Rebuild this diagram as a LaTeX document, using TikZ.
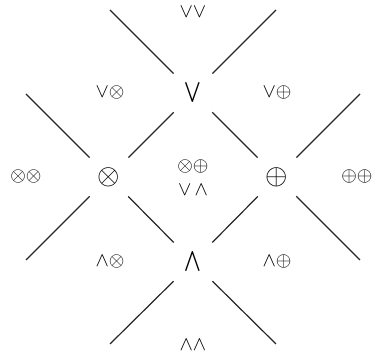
\documentclass[tikz,border=0pt]{standalone}
\usepackage{amsmath, amssymb}
\usepackage{tikz}
\usetikzlibrary{positioning}

\begin{document}
\begin{tikzpicture}[
    x=0.5pt, y=-0.5pt,
    op/.style={circle, minimum size=27pt, inner sep=0pt},
    bigop/.style={op, font=\Large},
    word/.style={inner sep=1pt},
    edge/.style={line width=0.6pt, color=black!85}
]
\useasboundingbox (0,0) rectangle (376,357);

% the four operators
\node (vee) [op] at (193,93) {$\bigvee$};
\node (otimes) [bigop] at (109,177) {$\otimes$};
\node (oplus) [bigop] at (277,177) {$\oplus$};
\node (wedge) [op] at (193,262) {$\bigwedge$};

% free ends of the outer lines
\coordinate (veeL) at (110,10);
\coordinate (veeR) at (276,10);
\coordinate (otimesT) at (26,94);
\coordinate (otimesB) at (26,260);
\coordinate (oplusT) at (360,94);
\coordinate (oplusB) at (360,260);
\coordinate (wedgeL) at (110,344);
\coordinate (wedgeR) at (276,344);

% labels of the regions
\node (vv) [word] at (193,12) {$\vee\vee$};
\node (vo) [word] at (110,93) {$\vee\otimes$};
\node (vp) [word] at (277,93) {$\vee\oplus$};
\node (oo) [word] at (26,177) {$\otimes\otimes$};
\node (pp) [word] at (357,177) {$\oplus\oplus$};
\node (op) [word] at (193,167) {$\otimes\oplus$};
\node (vw) [word] at (193,190) {$\vee\,\wedge$};
\node (wo) [word] at (110,262) {$\wedge\otimes$};
\node (wp) [word] at (277,262) {$\wedge\oplus$};
\node (ww) [word] at (193,345) {$\wedge\wedge$};

\draw [edge] (vee) -- (otimes);
\draw [edge] (vee) -- (oplus);
\draw [edge] (otimes) -- (wedge);
\draw [edge] (oplus) -- (wedge);
\draw [edge] (vee) -- (veeL);
\draw [edge] (vee) -- (veeR);
\draw [edge] (otimes) -- (otimesT);
\draw [edge] (otimes) -- (otimesB);
\draw [edge] (oplus) -- (oplusT);
\draw [edge] (oplus) -- (oplusB);
\draw [edge] (wedge) -- (wedgeL);
\draw [edge] (wedge) -- (wedgeR);

\end{tikzpicture}
\end{document}
